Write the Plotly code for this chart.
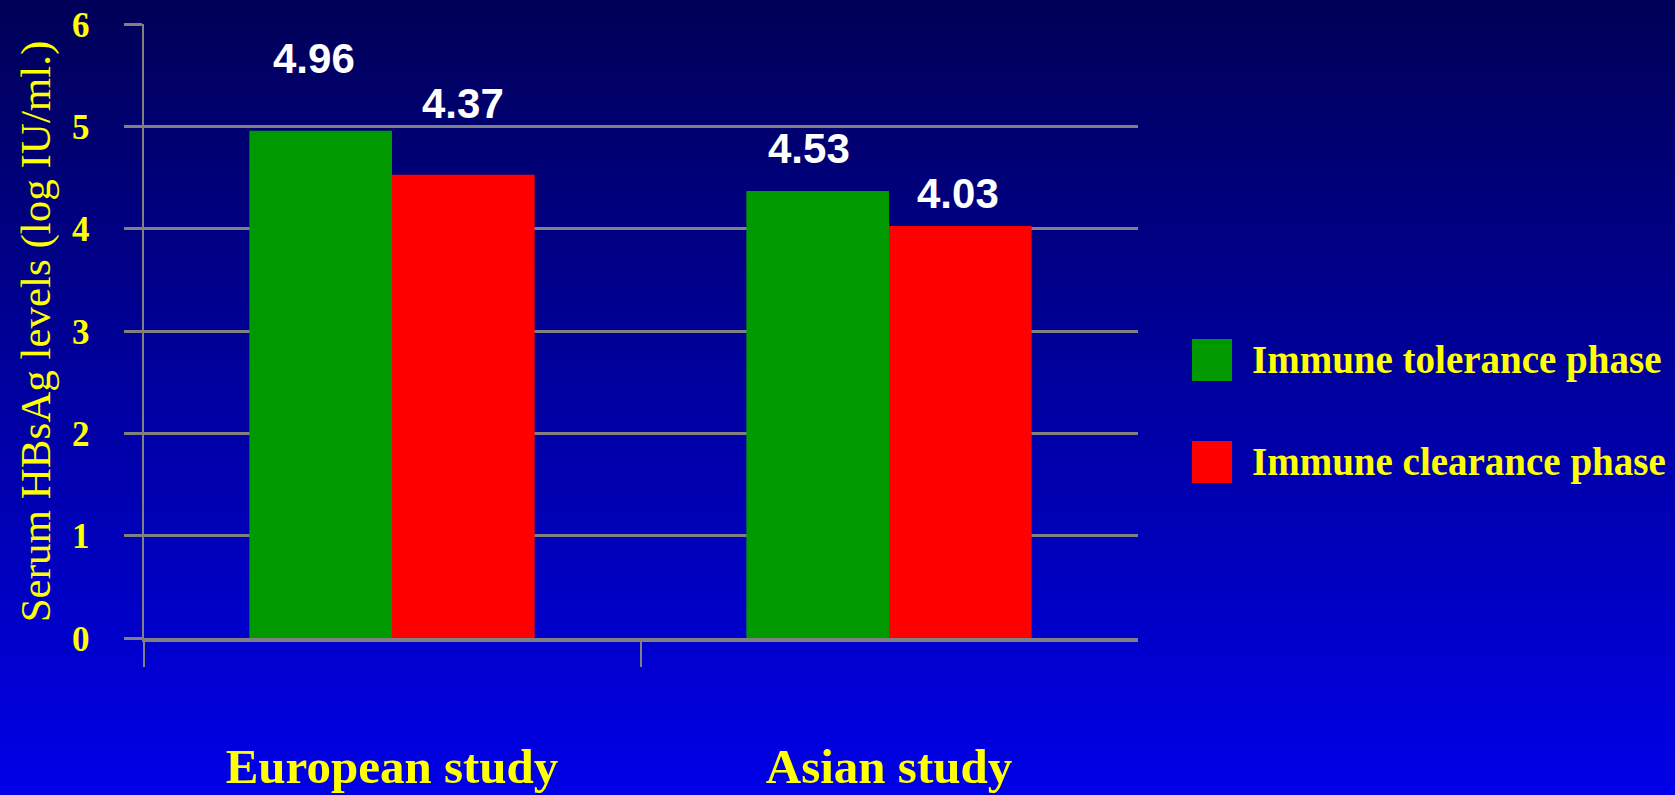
import base64, struct, zlib
import plotly.graph_objects as go

# ---------------- data ----------------
categories = ["European study", "Asian study"]
series_names = ["Immune tolerance phase", "Immune clearance phase"]
tolerance_values = [4.96, 4.37]
clearance_values = [4.53, 4.03]
tolerance_labels = ["4.96", "4.53"]
clearance_labels = ["4.37", "4.03"]
y_title = "Serum HBsAg levels (log IU/ml.)"
y_ticks = [0, 1, 2, 3, 4, 5, 6]

# ---------------- style ----------------
W, H = 1675, 795
GREEN = "#009900"
RED = "#FF0000"
GRID = "#808080"
YELLOW = "#FFFF00"
SERIF = "Liberation Serif, Times New Roman, serif"
SANS = "Liberation Sans, Arial, sans-serif"
BARGAP = 0.426


def gradient_png(top, bottom, h=256, w=4):
    raw = b""
    for i in range(h):
        t = i / (h - 1)
        px = bytes(round(top[k] + (bottom[k] - top[k]) * t) for k in range(3))
        raw += b"\x00" + px * w

    def chunk(tag, data):
        return (struct.pack(">I", len(data)) + tag + data
                + struct.pack(">I", zlib.crc32(tag + data) & 0xFFFFFFFF))

    png = (b"\x89PNG\r\n\x1a\n"
           + chunk(b"IHDR", struct.pack(">IIBBBBB", w, h, 8, 2, 0, 0, 0))
           + chunk(b"IDAT", zlib.compress(raw))
           + chunk(b"IEND", b""))
    return "data:image/png;base64," + base64.b64encode(png).decode()


bg = gradient_png((0, 0, 0x58), (0, 0, 0xE8))

# plot area in pixels
PL, PR, PT, PB = 143.5, 1137.5, 24.3, 638.3

fig = go.Figure()
fig.add_trace(go.Bar(x=categories, y=tolerance_values, name=series_names[0],
                     marker=dict(color=GREEN, line=dict(width=0)), showlegend=False))
fig.add_trace(go.Bar(x=categories, y=clearance_values, name=series_names[1],
                     marker=dict(color=RED, line=dict(width=0)), showlegend=False))

bw = (1 - BARGAP) / 2
annotations = []
label_font = dict(family=SANS, size=42, color="white", weight="bold")
for i, (v, t) in enumerate(zip(tolerance_values, tolerance_labels)):
    annotations.append(dict(x=i - bw / 2, y=v, xref="x", yref="y", text=t,
                            showarrow=False, yanchor="middle", xanchor="center",
                            yshift=[72, 43][i], xshift=[-7, -9][i], font=label_font))
for i, (v, t) in enumerate(zip(clearance_values, clearance_labels)):
    annotations.append(dict(x=i + bw / 2, y=v, xref="x", yref="y", text=t,
                            showarrow=False, yanchor="middle", xanchor="center",
                            yshift=[71, 32][i], xshift=[0, -2][i], font=label_font))

# y-axis title
annotations.append(dict(x=36 / W, y=1 - (PT + PB) / 2 / H, xref="paper", yref="paper",
                        text=y_title, textangle=-90, showarrow=False,
                        xanchor="center", yanchor="middle",
                        font=dict(family=SERIF, size=43, color=YELLOW)))

# custom legend
shapes = []
leg_colors = [GREEN, RED]
leg_y = [360, 462]
for name, col, yc in zip(series_names, leg_colors, leg_y):
    shapes.append(dict(type="rect", xref="paper", yref="paper",
                       x0=1192 / W, x1=1232 / W, y0=1 - (yc + 21) / H, y1=1 - (yc - 21) / H,
                       fillcolor=col, line=dict(width=0)))
    annotations.append(dict(x=1250 / W, y=1 - yc / H, xref="paper", yref="paper",
                            text=name, showarrow=False,
                            xanchor="left", yanchor="middle",
                            font=dict(family=SERIF, size=39, color=YELLOW, weight="bold")))

fig.update_layout(
    width=W, height=H,
    margin=dict(l=0, r=0, t=0, b=0, autoexpand=False),
    paper_bgcolor="#0000A0",
    plot_bgcolor="rgba(0,0,0,0)",
    barmode="group", bargap=BARGAP, bargroupgap=0,
    images=[dict(source=bg, xref="paper", yref="paper", x=0, y=1, sizex=1, sizey=1,
                 xanchor="left", yanchor="top", sizing="stretch", layer="below")],
    annotations=annotations,
    shapes=shapes,
    xaxis=dict(domain=[PL / W, PR / W], type="category", automargin=False,
               showline=True, linecolor=GRID, linewidth=4,
               ticks="outside", tickson="boundaries", ticklen=25, tickwidth=2, tickcolor=GRID,
               showgrid=False, ticklabelstandoff=82,
               tickfont=dict(family=SERIF, size=49, color=YELLOW, weight="bold")),
    yaxis=dict(domain=[1 - PB / H, 1 - PT / H], range=[0, 6], tickvals=y_ticks,
               automargin=False,
               showline=True, linecolor=GRID, linewidth=2,
               showgrid=True, gridcolor=GRID, gridwidth=3, zeroline=False,
               ticks="outside", ticklen=18, tickwidth=3, tickcolor=GRID,
               ticklabelstandoff=27,
               tickfont=dict(family=SERIF, size=35, color=YELLOW, weight="bold")),
)

fig.write_html("out.html")
